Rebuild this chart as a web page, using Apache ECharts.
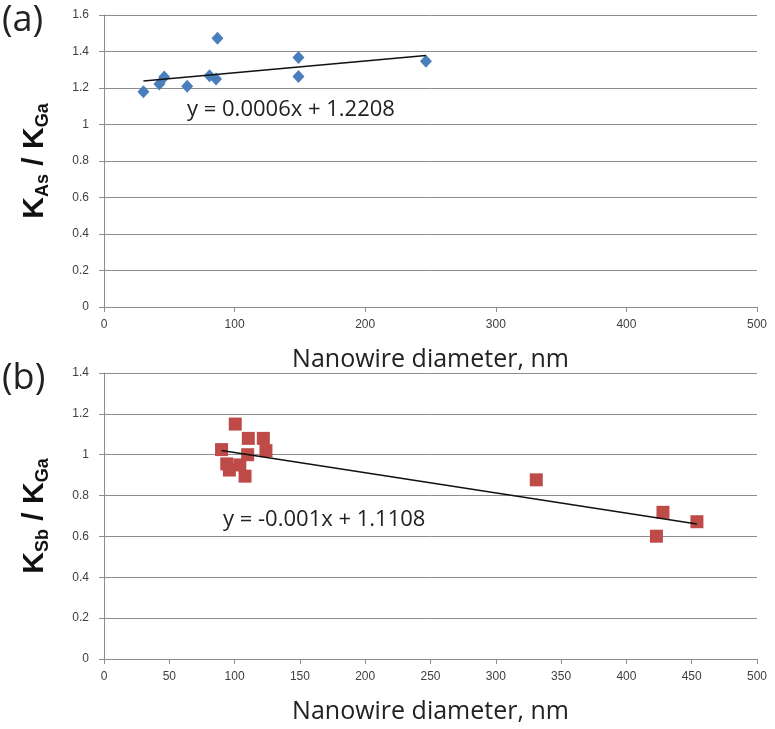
<!DOCTYPE html>
<html>
<head>
<meta charset="utf-8">
<script src="https://cdn.jsdelivr.net/npm/echarts@6/dist/echarts.min.js"></script>
<style>
html,body{margin:0;padding:0;background:#fff;}
#main{width:775px;height:729px;}
</style>
</head>
<body>
<div id="main"></div>
<script>
// panel (a): K_As / K_Ga
var diamA  = [30.2, 42.4, 46.1, 63.7, 80.8, 85.8, 86.9, 148.9, 148.9, 246.5];
var ratioA = [1.18, 1.222, 1.26, 1.209, 1.267, 1.249, 1.473, 1.367, 1.263, 1.346];
var trendAx = [30.2, 246.5];
var trendAy = [1.238, 1.378];
var eqA = 'y = 0.0006x + 1.2208';

// panel (b): K_Sb / K_Ga
var diamB  = [90, 100.5, 110.5, 122, 124, 110, 94, 96, 104, 108, 331, 428, 454, 423];
var ratioB = [1.025, 1.15, 1.08, 1.08, 1.02, 1.0, 0.955, 0.925, 0.95, 0.895, 0.877, 0.718, 0.672, 0.601];
var trendBx = [90, 454];
var trendBy = [1.021, 0.661];
var eqB = 'y = -0.001x + 1.1108';

var xName = 'Nanowire diameter, nm';

function pairs(xs, ys){
	var arr = [];
	for(var i=0;i<xs.length;i++){
		arr.push([xs[i], ys[i]]);
	}
	return arr;
}

var gridCol = '#8c8c8c';
var txtCol = '#404040';

function xAxisCfg(idx, interval){
	return {
		type:'value', gridIndex:idx, min:0, max:500, interval:interval,
		name:xName, nameLocation:'middle', nameGap:40,
		nameTextStyle:{color:'#222', fontSize:25, fontFamily:'Open Sans'},
		axisLine:{show:true, lineStyle:{color:gridCol, width:1}},
		axisTick:{show:true, length:5, lineStyle:{color:gridCol}},
		axisLabel:{color:txtCol, fontSize:12, margin:12, fontFamily:'Liberation Sans'},
		splitLine:{show:false}
	};
}
function yAxisCfg(idx, max, sub){
	return {
		type:'value', gridIndex:idx, min:0, max:max, interval:0.2,
		name:'{k|K}{s|' + sub + '}{k| / K}{s|Ga}',
		nameLocation:'middle', nameGap:52, nameRotate:90,
		nameTextStyle:{
			rich:{
				k:{fontSize:30, fontWeight:'bold', color:'#111', fontFamily:'Liberation Sans', lineHeight:34, verticalAlign:'middle'},
				s:{fontSize:18, fontWeight:'bold', color:'#111', fontFamily:'Liberation Sans', lineHeight:34, verticalAlign:'bottom'}
			}
		},
		axisLine:{show:true, lineStyle:{color:gridCol, width:1}},
		axisTick:{show:true, length:5, lineStyle:{color:gridCol}},
		axisLabel:{color:txtCol, fontSize:12, margin:15, fontFamily:'Liberation Sans'},
		splitLine:{show:true, lineStyle:{color:gridCol, width:1}}
	};
}

var chart = echarts.init(document.getElementById('main'));
var option = {
	animation:false,
	backgroundColor:'#fff',
	grid:[
		{left:104, right:18, top:15, height:292},
		{left:104, right:18, top:373, height:286}
	],
	xAxis:[xAxisCfg(0, 100), xAxisCfg(1, 50)],
	yAxis:[yAxisCfg(0, 1.6, 'As'), yAxisCfg(1, 1.4, 'Sb')],
	series:[
		{
			type:'scatter', xAxisIndex:0, yAxisIndex:0,
			symbol:'diamond', symbolSize:[12,13],
			itemStyle:{color:'#4a7ebb', opacity:1},
			data:pairs(diamA, ratioA)
		},
		{
			type:'line', xAxisIndex:0, yAxisIndex:0,
			symbol:'none', lineStyle:{color:'#111', width:1.5},
			data:pairs(trendAx, trendAy)
		},
		{
			type:'scatter', xAxisIndex:1, yAxisIndex:1,
			symbol:'rect', symbolSize:13,
			itemStyle:{color:'#be4b48', opacity:1},
			data:pairs(diamB, ratioB)
		},
		{
			type:'line', xAxisIndex:1, yAxisIndex:1,
			symbol:'none', lineStyle:{color:'#111', width:1.5},
			data:pairs(trendBx, trendBy)
		}
	],
	graphic:[
		{type:'text', left:2, top:3, style:{text:'(a)', fontSize:36, fill:'#222', fontFamily:'Open Sans'}},
		{type:'text', left:2, top:361, style:{text:'(b)', fontSize:36, fill:'#222', fontFamily:'Open Sans'}},
		{type:'text', left:187, top:99, style:{text:eqA, fontSize:22, fill:'#222', fontFamily:'Open Sans'}},
		{type:'text', left:223, top:509, style:{text:eqB, fontSize:22, fill:'#222', fontFamily:'Open Sans'}}
	]
};
chart.setOption(option);
</script>
</body>
</html>
